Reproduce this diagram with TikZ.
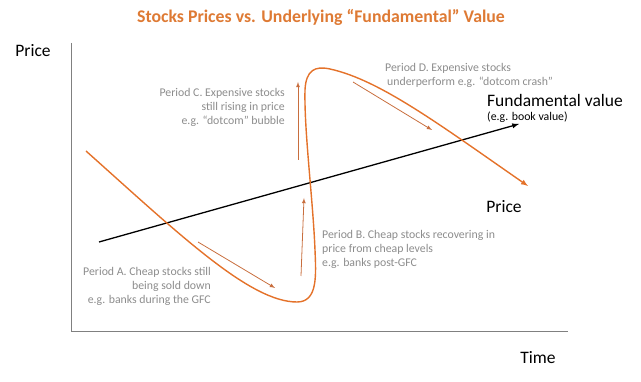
\documentclass[tikz,border=0pt]{standalone}
\usepackage{fontspec}
\setmainfont{Carlito}
\usetikzlibrary{positioning}
\definecolor{curveorange}{RGB}{228,114,42}
\definecolor{arroworange}{RGB}{200,110,62}
\definecolor{titleorange}{RGB}{222,122,52}
\definecolor{notegray}{RGB}{140,140,140}
\definecolor{axisgray}{RGB}{128,128,128}
\tikzset{
    x=1pt, y=-1pt, % one unit per pixel of the chart, y pointing down
    }

\begin{document}
\begin{tikzpicture}[
notetext/.style={text=notegray, font=\fontsize{11.8}{14}\selectfont, inner sep=0pt},
bigtext/.style={font=\fontsize{17.5}{20}\selectfont, inner sep=0pt},
pricecurve/.style={draw=curveorange, line width=1.4pt},
periodarrow/.style={draw=arroworange, line width=0.8pt, -latex},
]
\useasboundingbox (0,0) rectangle (641,382);

\node[font=\fontsize{17.8}{20}\selectfont\bfseries, text=titleorange, inner sep=0pt] (title) at (321,17) {Stocks Prices vs. Underlying “Fundamental” Value};

% axes
\coordinate (ytop) at (71,43);
\coordinate (origin) at (71,332);
\coordinate (xend) at (568,332);
\draw[axisgray, line width=1pt] (ytop) -- (origin) -- (xend);
\node[bigtext] (pricelabel) at (33,51) {Price};
\node[bigtext] (timelabel) at (538,358) {Time};

% fundamental value
\coordinate (fvstart) at (99,242);
\coordinate (fvend) at (519,124);
\draw[line width=1.3pt, -latex] (fvstart) -- (fvend);
\node[bigtext, anchor=west] (fundlabel) at (487,100) {Fundamental value};
\node[notetext, text=black, below=5pt of fundlabel.south west, anchor=north west] (booklabel) {(e.g. book value)};

% price
\draw[pricecurve, -latex] (86,151) .. controls (180,235) and (250,302) .. (297,302)
  .. controls (318,302) and (316,275) .. (315,250)
  .. controls (313,200) and (304,130) .. (305,90)
  .. controls (306,70) and (315,65.7) .. (330,69)
  .. controls (380,80) and (440,125) .. (528,186);
\node[bigtext] (curvelabel) at (504,207) {Price};

% periods
\node[notetext, anchor=east, align=right] (periodA) at (211,286) {Period A. Cheap stocks still\\being sold down\\e.g. banks during the GFC};
\node[notetext, anchor=west, align=left] (periodB) at (322,249) {Period B. Cheap stocks recovering in\\price from cheap levels\\e.g. banks post-GFC};
\node[notetext, anchor=east, align=right] (periodC) at (285,107) {Period C. Expensive stocks\\still rising in price\\e.g. “dotcom” bubble};
\node[notetext, anchor=west, align=left] (periodD) at (385,75) {Period D. Expensive stocks\\\hspace{2pt}underperform e.g. “dotcom crash”};

\coordinate (aFrom) at (198,242);
\coordinate (aTo) at (275,288);
\coordinate (bFrom) at (301,276);
\coordinate (bTo) at (304,198);
\coordinate (cFrom) at (298,160);
\coordinate (cTo) at (298,82);
\coordinate (dFrom) at (353,82);
\coordinate (dTo) at (432,130);
\draw[periodarrow] (aFrom) -- (aTo);
\draw[periodarrow] (bFrom) -- (bTo);
\draw[periodarrow] (cFrom) -- (cTo);
\draw[periodarrow] (dFrom) -- (dTo);
\end{tikzpicture}
\end{document}
